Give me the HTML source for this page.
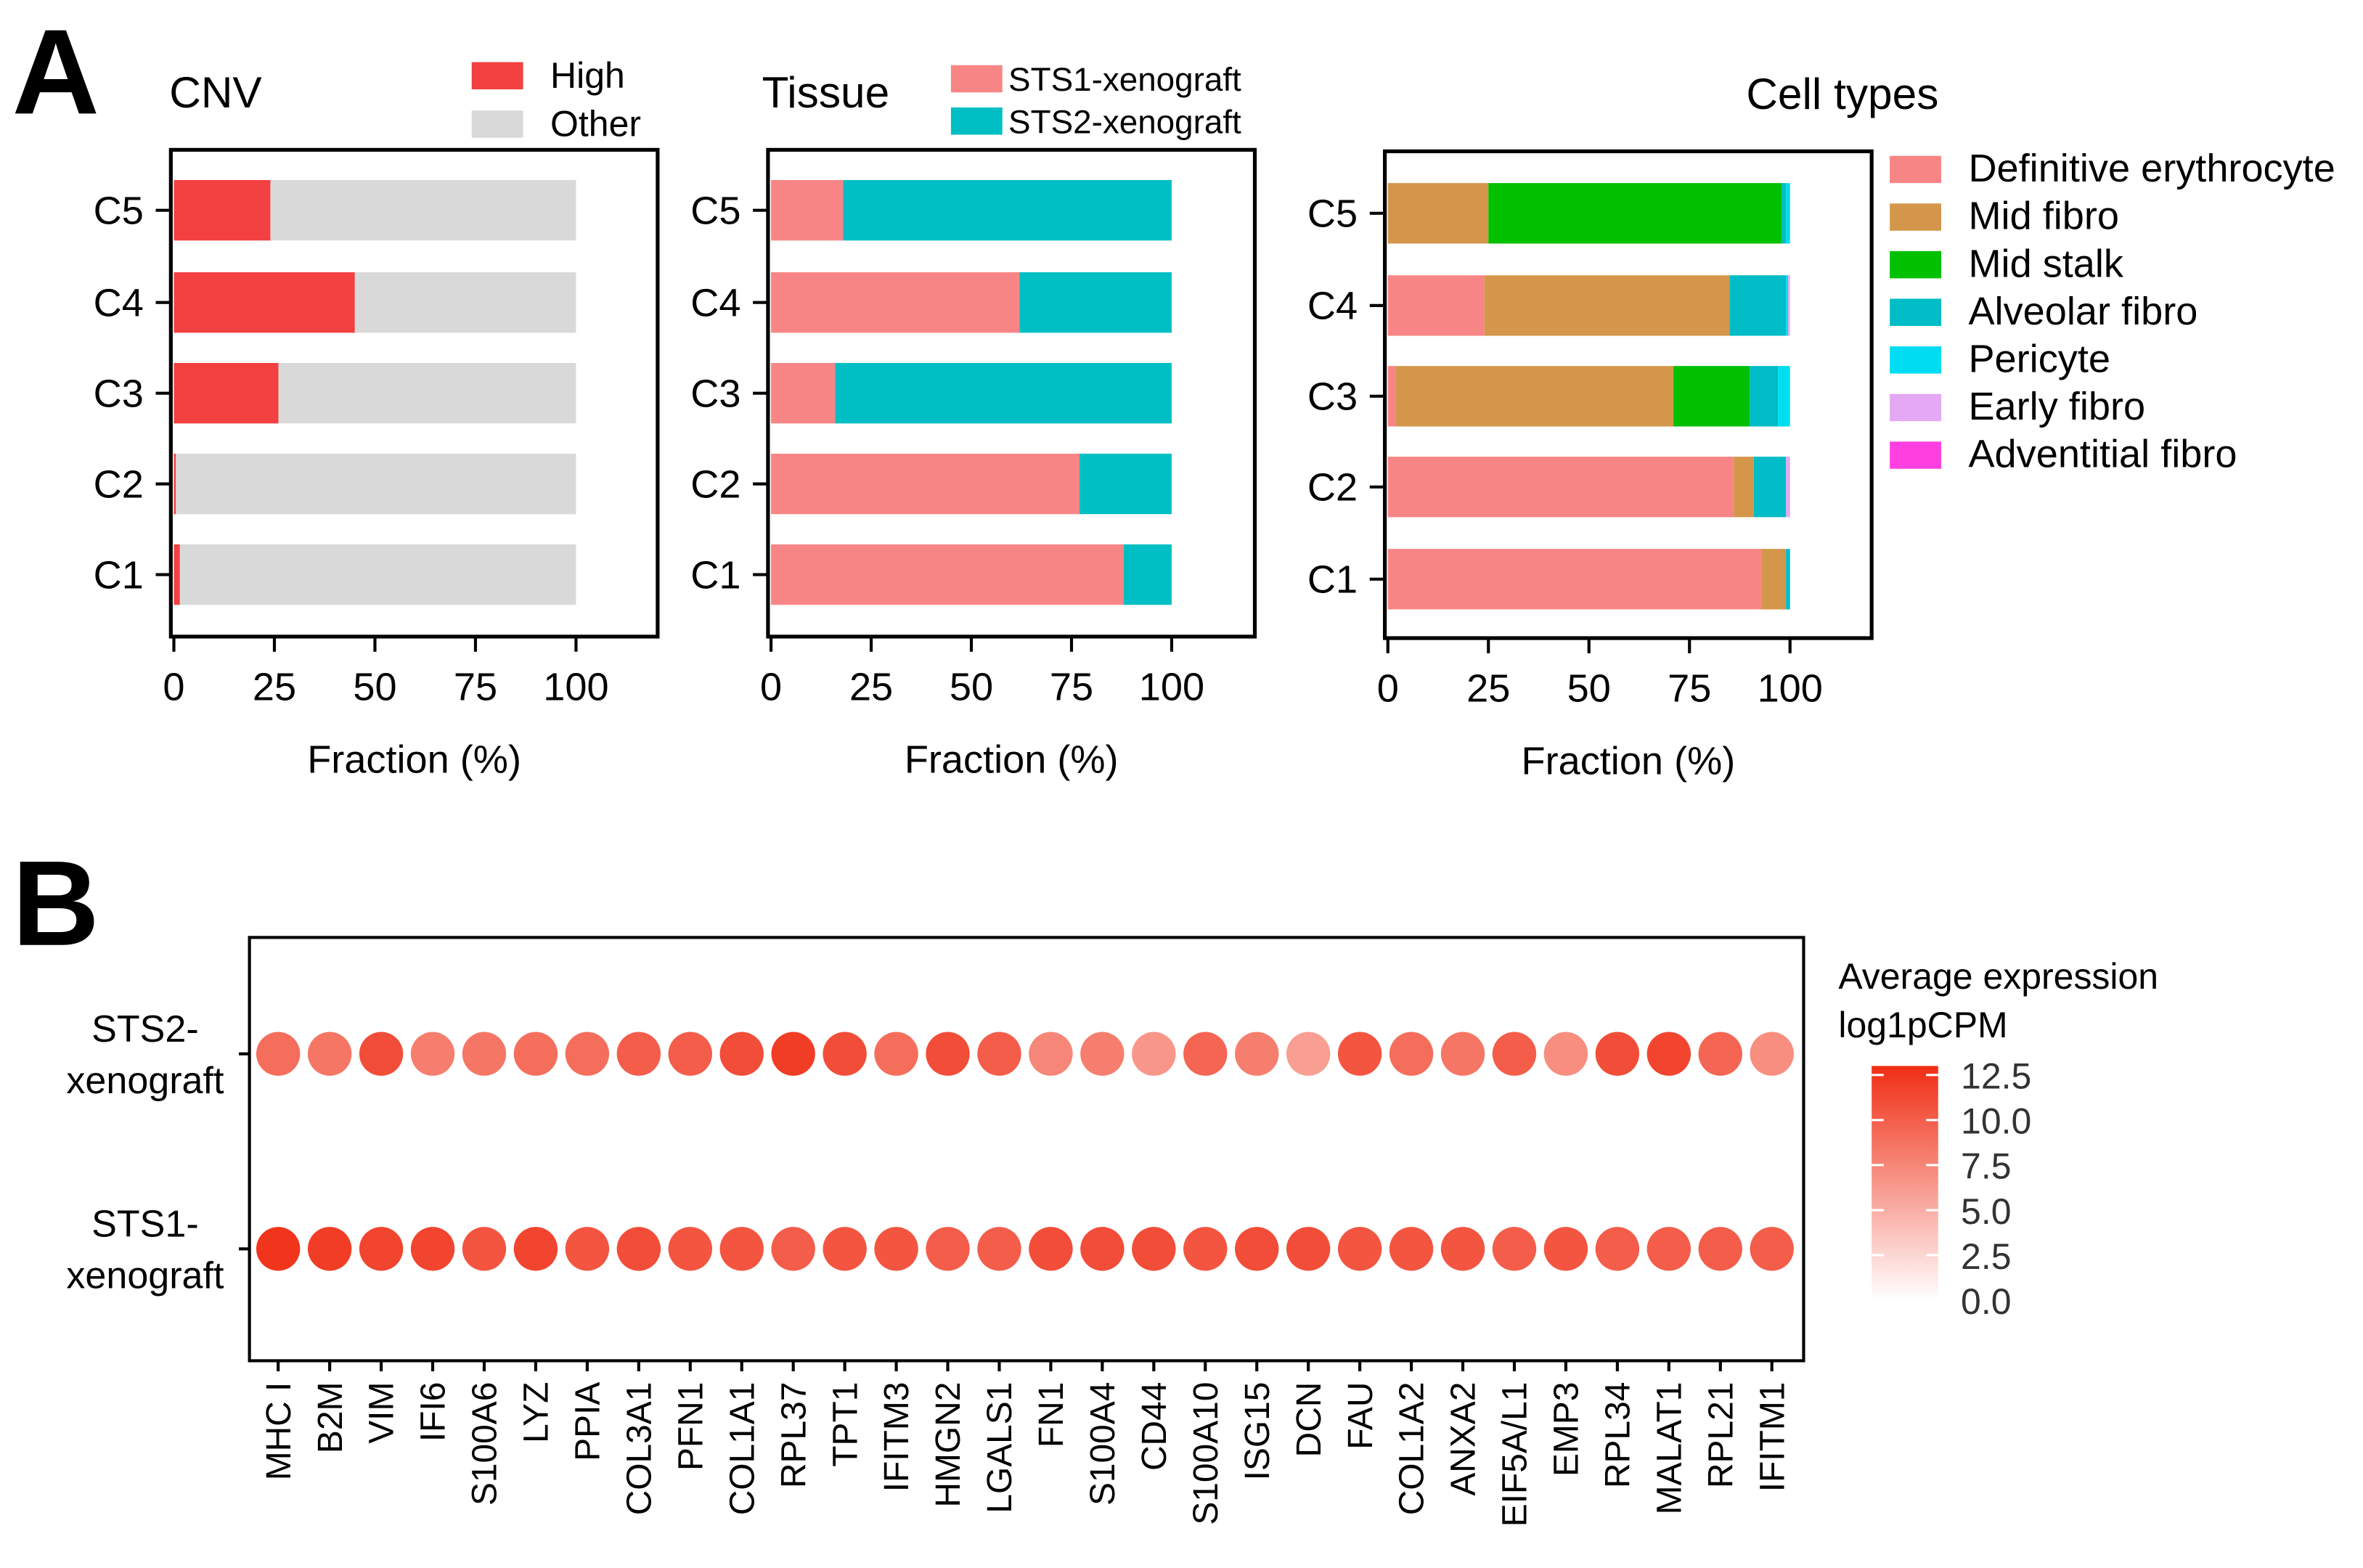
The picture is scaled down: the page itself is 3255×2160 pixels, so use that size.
<!DOCTYPE html>
<html><head><meta charset="utf-8"><style>
html,body{margin:0;padding:0;background:#fff;}
svg{display:block;font-family:"Liberation Sans",Arial,sans-serif;}
</style></head><body>
<svg id="fig" width="3255" height="2160" viewBox="0 0 1563 1037" xmlns="http://www.w3.org/2000/svg">
<text x="8" y="75" font-size="80" font-weight="bold">A</text>
<text x="8" y="625" font-size="80" font-weight="bold">B</text>
<g id="pa"></g>
<g id="pb"></g>
</svg>
<script>
const NS='http://www.w3.org/2000/svg';
function mk(tag,attrs,parent,txt){const e=document.createElementNS(NS,tag);for(const k in attrs)e.setAttribute(k,attrs[k]);if(txt!==undefined)e.textContent=txt;parent.appendChild(e);return e;}

// ---- Panel A data ----
const clusters=['C1','C2','C3','C4','C5'];
const xTicks=[0,25,50,75,100];
const cnvHigh=[1.5,0.5,26,45,24];
const tissueSTS1=[88,77,16,62,18];
const cellTypeNames=['Definitive erythrocyte','Mid fibro','Mid stalk','Alveolar fibro','Pericyte','Early fibro','Adventitial fibro'];
const cellDef=[93,86,2,24,0];
const cellMidFibro=[6,5,69,61,25];
const cellMidStalk=[0,0,19,0,73];
const cellAlveolar=[1,8,7,14,1];
const cellPericyte=[0,0,3,0.5,1];
const cellEarly=[0,1,0,0.5,0];
const cellAdvent=[0,0,0,0,0];
const cellColors=['#f88585','#d4964a','#00c000','#00bcc6','#00dcf2','#e4a8f4','#ff40e0'];

const pa=document.getElementById('pa');
function panel(name,bx,by,x0,x1,rowY,stacks,colors,title,tx){
  const g=mk('g',{},pa);
  
  
  const sx=v=>x0+(x1-x0)*v/100;
  const sy=i=>rowY[i];
  for(let i=0;i<clusters.length;i++){
    let acc=0;
    stacks.forEach((arr,s)=>{
      const v=arr[i]; if(v<=0)return;
      const r=mk('rect',{x:sx(acc),y:sy(i)-20,width:sx(acc+v)-sx(acc),height:40,fill:colors[s]},g);
      
      
      acc+=v;
    });
    const l=mk('text',{x:bx-18,y:sy(i)+9,'font-size':26,'text-anchor':'end'},g,clusters[i]);
    
    
    mk('line',{x1:bx-10,x2:bx,y1:sy(i),y2:sy(i),stroke:'#000','stroke-width':2},g);
  }
  const fr=mk('rect',{x:bx,y:by,width:322,height:322,fill:'none',stroke:'#000','stroke-width':2.5},g);
  
  
  xTicks.forEach(t=>{
    mk('line',{x1:sx(t),x2:sx(t),y1:by+322,y2:by+332,stroke:'#000','stroke-width':2},g);
    const tl=mk('text',{x:sx(t),y:by+364,'font-size':26,'text-anchor':'middle'},g,t);
    
    
  });
  const xt=mk('text',{x:bx+161,y:by+412,'font-size':26,'text-anchor':'middle'},g,'Fraction (%)');
  
  
  const tt=mk('text',{x:tx,y:by-28,'font-size':29},g,title);
  
  
}
const rowsA=[380,320,260,200,139];
panel('cnv',113,99,115,381,rowsA,[cnvHigh,cnvHigh.map(v=>100-v)],['#f34040','#d9d9d9'],'CNV',112);
panel('tissue',508,99,510,775,rowsA,[tissueSTS1,tissueSTS1.map(v=>100-v)],['#f88585','#00bfc4'],'Tissue',504);
panel('cell-types',916,100,918,1184,[383,322,262,202,141],[cellDef,cellMidFibro,cellMidStalk,cellAlveolar,cellPericyte,cellEarly,cellAdvent],cellColors,'Cell types',1155);

function legendEntry(x,y,w,h,c,label,fs,gap,name){
  const g=mk('g',{},pa);
  
  
  mk('rect',{x:x,y:y-h/2,width:w,height:h,fill:c},g);
  mk('text',{x:x+w+gap,y:y+8,'font-size':fs},g,label);
}
legendEntry(312,50,34,18,'#f34040','High',24,18,'legend-entry-high');
legendEntry(312,82,34,18,'#d9d9d9','Other',24,18,'legend-entry-other');
legendEntry(629,52,34,18,'#f88585','STS1-xenograft',22,4,'legend-entry-sts1');
legendEntry(629,80,34,18,'#00bfc4','STS2-xenograft',22,4,'legend-entry-sts2');
cellTypeNames.forEach((n,i)=>legendEntry(1250,112+31.5*i,34,18,cellColors[i],n,26,18,'legend-entry-celltype-'+i));

// ---- Panel B data ----
const genes=['MHC I','B2M','VIM','IFI6','S100A6','LYZ','PPIA','COL3A1','PFN1','COL1A1','RPL37','TPT1','IFITM3','HMGN2','LGALS1','FN1','S100A4','CD44','S100A10','ISG15','DCN','FAU','COL1A2','ANXA2','EIF5A/L1','EMP3','RPL34','MALAT1','RPL21','IFITM1'];
const sts2Expr=[9,8.5,11,8,8.5,9,9,10,10,11,12,11,9,11,10,7.5,8,6.5,9.5,8,6,10.5,9,8.5,10,7,11,11.5,9.5,7];
const sts1Expr=[12.5,12,11.5,11.5,10.5,11.5,10.5,11,10.5,10.5,10,10.5,10.5,10,10,11,11,11,10.5,11,11,10.5,10.5,10.5,10,10.5,10,10,10,10];
const cbTicks=[0,2.5,5,7.5,10,12.5];
const pb=document.getElementById('pb');
function col(v){const t=Math.max(0,Math.min(1,v/13));const c=[240,45,20];return 'rgb('+c.map(k=>Math.round(255+(k-255)*t)).join(',')+')';}
const gx0=184,gx1=1172;
const gx=i=>gx0+(gx1-gx0)*i/(genes.length-1);
const fb=mk('rect',{x:165,y:620,width:1028,height:280,fill:'none',stroke:'#000','stroke-width':2},pb);


[['STS2-','xenograft',697,'row-label-sts2'],['STS1-','xenograft',826,'row-label-sts1']].forEach(r=>{
  const t=mk('text',{x:96,y:r[2]-8,'font-size':25,'text-anchor':'middle'},pb);
  
  
  mk('tspan',{x:96},t,r[0]);
  mk('tspan',{x:96,dy:34},t,r[1]);
  mk('line',{x1:158,x2:165,y1:r[2],y2:r[2],stroke:'#000','stroke-width':2},pb);
});
genes.forEach((g,i)=>{
  const d2=mk('circle',{cx:gx(i),cy:697,r:14.5,fill:col(sts2Expr[i])},pb);
  
  
  const d1=mk('circle',{cx:gx(i),cy:826,r:14.5,fill:col(sts1Expr[i])},pb);
  
  
  mk('line',{x1:gx(i),x2:gx(i),y1:900,y2:907,stroke:'#000','stroke-width':2},pb);
  const t=mk('text',{x:0,y:0,'font-size':23,'text-anchor':'end',transform:'translate('+(gx(i)+8)+',914) rotate(-90)'},pb,g);
  
  
});
// colorbar
const defs=mk('defs',{},pb);
const lg=mk('linearGradient',{id:'cb',x1:0,y1:1,x2:0,y2:0},defs);
for(let k=0;k<=10;k++){mk('stop',{offset:k/10,'stop-color':col(13*k/10)},lg);}
const cbTop=705,cbBot=860,cbMax=13;
const cy=v=>cbBot-(cbBot-cbTop)*v/cbMax;
const cbr=mk('rect',{x:1238,y:cbTop,width:44,height:cbBot-cbTop,fill:'url(#cb)'},pb);


cbTicks.forEach(t=>{
  mk('line',{x1:1238,x2:1246,y1:cy(t),y2:cy(t),stroke:'#fff','stroke-width':1.5},pb);
  mk('line',{x1:1274,x2:1282,y1:cy(t),y2:cy(t),stroke:'#fff','stroke-width':1.5},pb);
  const l=mk('text',{x:1297,y:cy(t)+9,'font-size':24,fill:'#333'},pb,t.toFixed(1));
  
  
});
const ct=mk('text',{x:1216,y:654,'font-size':24},pb);


mk('tspan',{x:1216},ct,'Average expression');
mk('tspan',{x:1216,dy:32},ct,'log1pCPM');
</script>
</body></html>
